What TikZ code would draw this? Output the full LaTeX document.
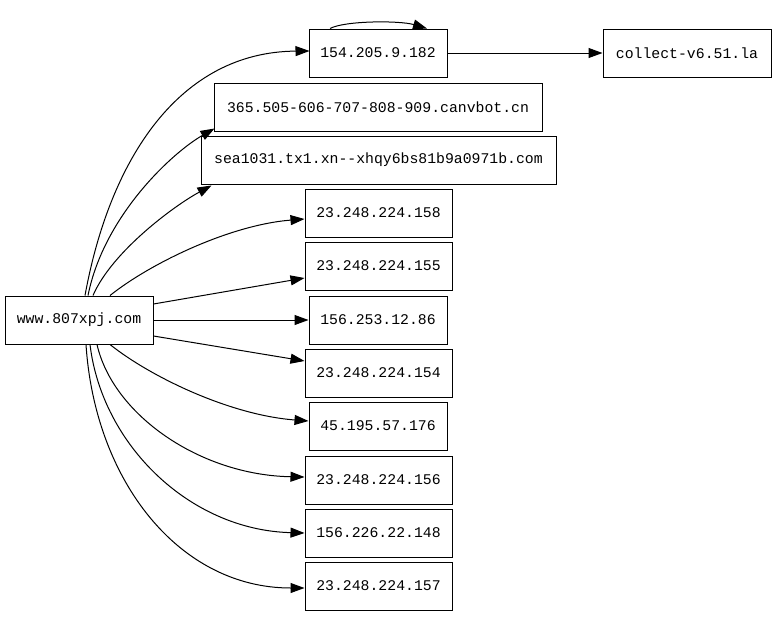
\documentclass[tikz,border=0pt]{standalone}
\usepackage{fontspec}
\setmonofont{Liberation Mono}
\usetikzlibrary{arrows.meta,calc}
\begin{document}
\begin{tikzpicture}[x=1pt,y=-1pt,
  box/.style={draw,line width=1pt,font=\ttfamily\fontsize{14.8}{17}\selectfont,minimum height=48pt,inner sep=0pt,fill=white},
  edge/.style={line width=1pt,-{Triangle[length=14pt,width=10pt]}}]
\useasboundingbox[fill=white] (0,0) rectangle (776,616);
\node[box,minimum width=148pt] (www) at (79,320) {www.807xpj.com};
\node[box,minimum width=138pt] (n154a) at (378,53) {154.205.9.182};
\node[box,minimum width=168pt] (col) at (687,53) {collect-v6.51.la};
\node[box,minimum width=328pt] (n365) at (378,107) {365.505-606-707-808-909.canvbot.cn};
\node[box,minimum width=355pt] (sea) at (378.5,160) {sea1031.tx1.xn--xhqy6bs81b9a0971b.com};
\node[box,minimum width=147pt] (n158) at (378.5,213) {23.248.224.158};
\node[box,minimum width=147pt] (n155) at (378.5,266) {23.248.224.155};
\node[box,minimum width=138pt] (n86) at (378,320) {156.253.12.86};
\node[box,minimum width=147pt] (n154) at (378.5,373) {23.248.224.154};
\node[box,minimum width=138pt] (n45) at (378,426) {45.195.57.176};
\node[box,minimum width=147pt] (n156) at (378.5,480) {23.248.224.156};
\node[box,minimum width=147pt] (n148) at (378.5,533) {156.226.22.148};
\node[box,minimum width=147pt] (n157) at (378.5,586) {23.248.224.157};

% top curved edges
\draw[edge] ($(www.north)+(6,0)$) .. controls +(25,-137) and +(-130,1) .. ($(n154a.west)+(1,-2)$);
\draw[edge] ($(www.north)+(9,0)$) .. controls +(16,-80) and +(-42,24) .. ($(n365.south west)+(1,-3)$);
\draw[edge] ($(www.north)+(14,0)$) .. controls +(19,-44) and +(-37,20) .. ($(sea.south west)+(11,1)$);
\draw[edge] ($(www.north)+(31,0)$) .. controls +(40,-32) and +(-75,6) .. ($(n158.west)+(0,6)$);
\draw[edge] ($(www.east)+(0,-16)$) -- ($(n155.west)+(0,12)$);
\draw[edge] (www.east) -- (n86.west);
\draw[edge] ($(www.east)+(0,16)$) -- ($(n154.west)+(0,-12)$);
% bottom curved edges
\draw[edge] ($(www.south)+(31,0)$) .. controls +(40,32) and +(-79,-6) .. ($(n45.west)+(0,-5)$);
\draw[edge] ($(www.south)+(18,0)$) .. controls +(16,70) and +(-105,-2) .. ($(n156.west)+(0,-3)$);
\draw[edge] ($(www.south)+(11,0)$) .. controls +(12,100) and +(-115,-3) .. (n148.west);
\draw[edge] ($(www.south)+(7,0)$) .. controls +(9,137) and +(-125,0) .. ($(n157.west)+(0,2)$);

% other edges
\draw[edge] (n154a.east) -- (col.west);
\draw[edge] ($(n154a.north)+(-48,0)$) .. controls +(15,-8) and +(-27,-8) .. ($(n154a.north)+(49,0)$);
\end{tikzpicture}
\end{document}
